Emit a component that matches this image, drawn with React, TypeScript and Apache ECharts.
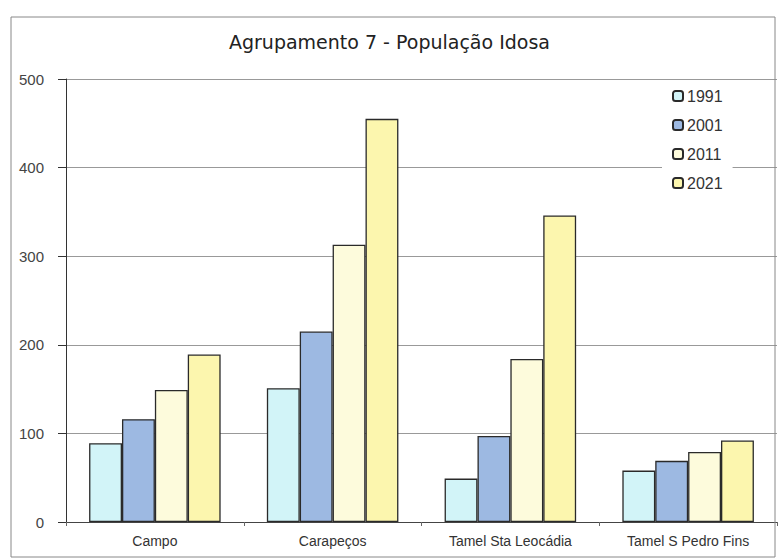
import React, { useEffect, useRef } from "react";
import * as echarts from "echarts";

const categories = ["Campo", "Carapeços", "Tamel Sta Leocádia", "Tamel S Pedro Fins"];
const years = ["1991", "2001", "2011", "2021"];
const v1991 = [89, 151, 49, 58];
const v2001 = [116, 215, 97, 69];
const v2011 = [149, 313, 184, 79];
const v2021 = [189, 455, 346, 92];
const yTicks = [0, 100, 200, 300, 400, 500];

const seriesValues = [v1991, v2001, v2011, v2021];
const colors = ["#d2f4f8", "#9db9e2", "#fdfbdc", "#fcf6ae"];

export default function App() {
  const ref = useRef<HTMLDivElement>(null);
  useEffect(() => {
    document.body.style.margin = "0";
    const chart = echarts.init(ref.current!, undefined, { renderer: "svg" });
    chart.setOption({
      animation: false,
      backgroundColor: "#ffffff",
      title: {
        text: "Agrupamento 7 - População Idosa",
        left: "center",
        top: 27,
        textStyle: { fontFamily: "DejaVu Sans", fontSize: 19, fontWeight: "normal", color: "#222" },
      },
      graphic: [
        {
          type: "rect",
          shape: { x: 11, y: 17, width: 764, height: 540 },
          style: { fill: "none", stroke: "#888", lineWidth: 1 },
          z: 100,
          silent: true,
        },
      ],
      legend: {
        orient: "vertical",
        left: 662,
        top: 84,
        itemWidth: 10,
        itemHeight: 10,
        itemGap: 13,
        backgroundColor: "#ffffff",
        padding: [4, 10, 4, 10],
        textStyle: { fontFamily: "Liberation Sans", fontSize: 16, color: "#333", padding: [0, 0, 0, -1] },
        data: years,
      },
      grid: { left: 66, top: 79, bottom: 38, right: 2 },
      xAxis: {
        type: "category",
        data: categories,
        axisLine: { lineStyle: { color: "#444", width: 1 } },
        axisTick: { show: true, length: 4, lineStyle: { color: "#666" } },
        axisLabel: { fontFamily: "Liberation Sans", fontSize: 14, color: "#333", margin: 12 },
      },
      yAxis: {
        type: "value",
        min: yTicks[0],
        max: yTicks[yTicks.length - 1],
        interval: 100,
        axisLine: { show: true, lineStyle: { color: "#333", width: 1 } },
        axisTick: { show: true, length: 8, lineStyle: { color: "#333" } },
        axisLabel: { fontFamily: "Liberation Sans", fontSize: 15, color: "#444", margin: 22 },
        splitLine: { lineStyle: { color: "#999", width: 1 } },
      },
      series: years.map((y, i) => ({
        name: y,
        type: "bar",
        data: seriesValues[i],
        barGap: "0%",
        barCategoryGap: "26%",
        itemStyle: { color: colors[i], borderColor: "#2a2a2a", borderWidth: 1.3 },
      })),
    });
    return () => chart.dispose();
  }, []);
  return <div ref={ref} style={{ width: 779, height: 560 }} />;
}
